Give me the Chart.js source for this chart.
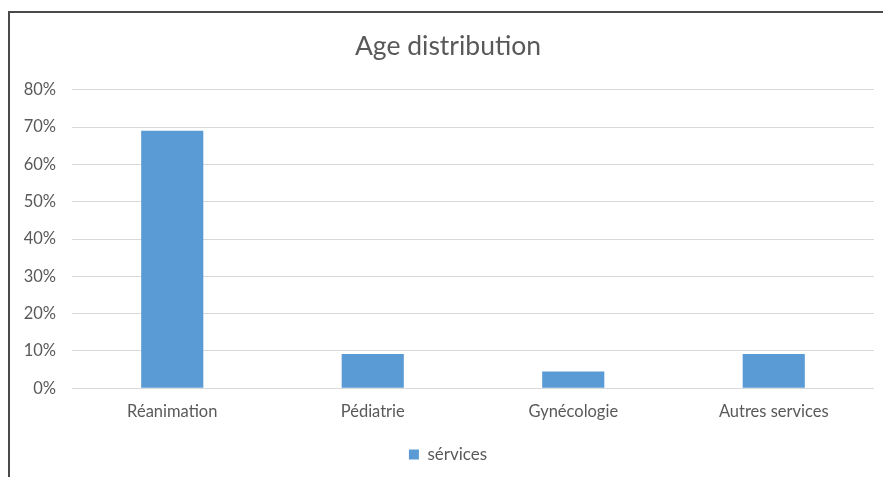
<!DOCTYPE html>
<html>
<head>
<meta charset="utf-8">
<script src="https://cdn.jsdelivr.net/npm/chart.js@4/dist/chart.umd.min.js"></script>
<style>
html,body{margin:0;padding:0;background:#fff;overflow:hidden;width:883px;height:477px;}
#wrap{position:absolute;left:0;top:0;width:905px;height:477px;}
#frame{position:absolute;left:8px;top:11px;width:1000px;height:1000px;border-left:2px solid #4a4a4a;border-top:2px solid #4a4a4a;pointer-events:none;}
</style>
</head>
<body>
<div id="wrap"><canvas id="c" width="905" height="477"></canvas></div>
<div id="frame"></div>
<script>
const categories = ["Réanimation", "Pédiatrie", "Gynécologie", "Autres services"];
const seriesName = "sérvices";
const values = [0.69, 0.092, 0.045, 0.092];
const chartTitle = "Age distribution";

const FONT = "Lato, 'Open Sans', sans-serif";
const TXT = "#595959";

new Chart(document.getElementById('c'), {
  type: 'bar',
  data: {
    labels: categories,
    datasets: [{
      label: seriesName,
      data: values,
      backgroundColor: '#5B9BD5',
      borderWidth: 0,
      barPercentage: 0.31,
      categoryPercentage: 1.0
    }]
  },
  options: {
    responsive: false,
    animation: false,
    devicePixelRatio: 1,
    layout: { padding: { left: 22, right: 31, top: 0, bottom: 4 } },
    plugins: {
      title: {
        display: true,
        text: chartTitle,
        color: TXT,
        font: { family: FONT, size: 26.5, weight: 'normal' },
        padding: { top: 31, bottom: 27 }
      },
      legend: {
        display: true,
        position: 'bottom',
        labels: {
          color: TXT,
          font: { family: FONT, size: 17 },
          boxWidth: 10,
          boxHeight: 10,
          padding: 10
        }
      },
      tooltip: { enabled: false }
    },
    scales: {
      x: {
        grid: { display: false, drawTicks: false },
        border: { display: false },
        ticks: { color: TXT, font: { family: FONT, size: 16.5 }, padding: 14 }
      },
      y: {
        min: 0,
        max: 0.8,
        afterFit: s => { s.width = 50; },
        grid: { color: '#D9D9D9', drawTicks: false, lineWidth: 1 },
        border: { display: false },
        ticks: {
          stepSize: 0.1,
          color: TXT,
          font: { family: FONT, size: 16.5 },
          padding: 16,
          callback: v => Math.round(v * 100) + '%'
        }
      }
    }
  }
});
</script>
</body>
</html>
